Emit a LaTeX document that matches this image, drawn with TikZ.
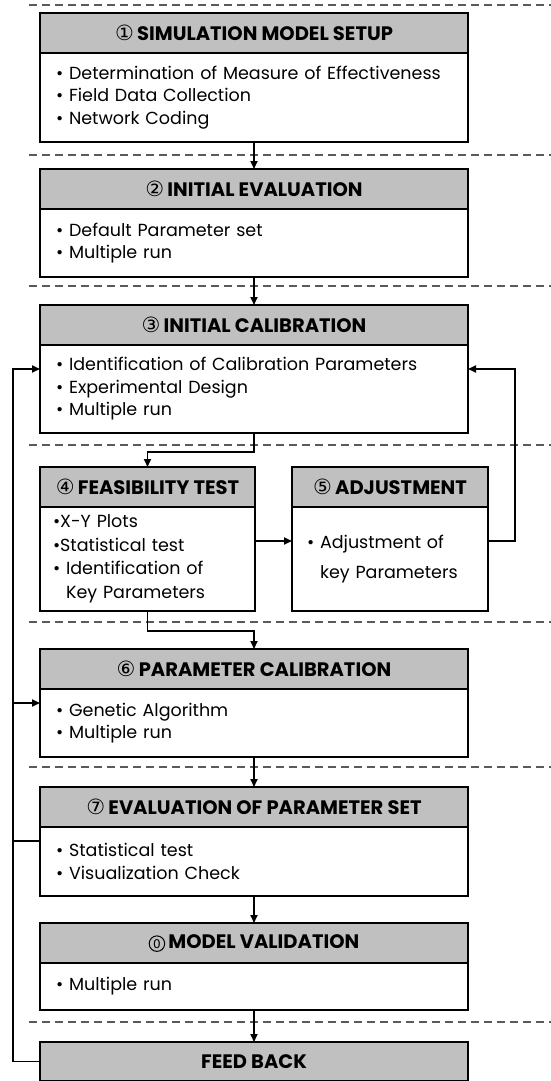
\documentclass[tikz,border=0pt]{standalone}
\usepackage{fontspec}
\setmainfont{Poppins}
\newfontfamily\circfont{DejaVu Sans}
\usetikzlibrary{arrows.meta,calc}

\definecolor{headgray}{RGB}{192,192,192}
\definecolor{sepgray}{RGB}{90,90,90}

\newcommand{\cnum}[1]{{\circfont\mdseries\fontsize{21}{22}\selectfont #1}\,}
% circled zero, drawn since the symbol fonts lack it
\newcommand{\czero}{\tikz[baseline=(cz.base)]\node[circle, draw, line width=1pt,
  inner sep=0.8pt, minimum size=15.5pt, font=\circfont\mdseries\fontsize{12}{12}\selectfont] (cz) {0};\,}

\begin{document}
\begin{tikzpicture}[x=1pt,y=-1pt,
  head/.style={draw=black, line width=1.8pt, fill=headgray, outer sep=0pt,
    inner sep=0pt, minimum height=40pt, anchor=north west,
    font=\bfseries\fontsize{19.5}{22}\selectfont},
  body/.style={draw=black, line width=1.8pt, fill=white, outer sep=0pt,
    inner ysep=0pt, align=left, anchor=north west,
    font=\fontsize{17.5}{22.5}\selectfont},
  conn/.style={line width=1.8pt, -{Triangle[length=8pt,width=7pt]}},
  link/.style={line width=1.8pt},
  sep/.style={draw=sepgray, line width=1.1pt, dash pattern=on 8pt off 5pt}]
\useasboundingbox (0,0) rectangle (551,1081);

% stage separators
\foreach \yy in {5,155,286,445,622,767,1022}
  \draw[sep] (29,\yy) -- (551,\yy);

% 1 simulation model setup
\node[head, minimum width=428pt] (h1) at (40,13) {\cnum{①}SIMULATION MODEL SETUP};
\node[body, text width=396pt, inner xsep=16pt, minimum height=89pt] (b1) at (h1.south west)
  {• Determination of Measure of Effectiveness\\
   • Field Data Collection\\
   • Network Coding};

% 2 initial evaluation
\node[head, minimum width=428pt] (h2) at (40,169) {\cnum{②}INITIAL EVALUATION};
\node[body, text width=396pt, inner xsep=16pt, minimum height=68pt] (b2) at (h2.south west)
  {• Default Parameter set\\
   • Multiple run};

% 3 initial calibration
\node[head, minimum width=428pt] (h3) at (40,305) {\cnum{③}INITIAL CALIBRATION};
\node[body, text width=396pt, inner xsep=16pt, minimum height=88pt] (b3) at (h3.south west)
  {• Identification of Calibration Parameters\\
   • Experimental Design\\
   • Multiple run};

% 4 feasibility test
\node[head, minimum width=215pt] (h4) at (40,467) {\cnum{④}FEASIBILITY TEST};
\node[body, text width=189pt, inner xsep=13pt, minimum height=104pt,
  font=\fontsize{17.5}{23.5}\selectfont] (b4) at (h4.south west)
  {•X-Y Plots\\
   •Statistical test\\
   • Identification of\\
   \phantom{• }Key Parameters};

% 5 adjustment
\node[head, minimum width=196pt] (h5) at (292,467) {\cnum{⑤}ADJUSTMENT};
\node[body, text width=166pt, inner xsep=15pt, minimum height=104pt] (b5) at (h5.south west)
  {• Adjustment of\\[7pt]
   \phantom{• }key Parameters};

% 6 parameter calibration
\node[head, minimum width=428pt] (h6) at (40,649) {\cnum{⑥}PARAMETER CALIBRATION};
\node[body, text width=396pt, inner xsep=16pt, minimum height=68pt] (b6) at (h6.south west)
  {• Genetic Algorithm\\
   • Multiple run};

% 7 evaluation of parameter set
\node[head, minimum width=428pt] (h7) at (40,787) {\cnum{⑦}EVALUATION OF PARAMETER SET};
\node[body, text width=396pt, inner xsep=16pt, minimum height=69pt] (b7) at (h7.south west)
  {• Statistical test\\
   • Visualization Check};

% 0 model validation
\node[head, minimum width=428pt] (h8) at (40,923) {\czero MODEL VALIDATION};
\node[body, text width=396pt, inner xsep=16pt, minimum height=47pt] (b8) at (h8.south west)
  {• Multiple run};

% feed back
\node[head, minimum width=428pt, minimum height=39pt] (fb) at (40,1042) {FEED BACK};

% entry points on the box sides
\coordinate (in3) at ($(b3.north west)+(0,24)$);
\coordinate (out3) at ($(b3.north east)+(0,24)$);
\coordinate (out4) at ($(b4.north east)+(0,34)$);
\coordinate (in6) at ($(b6.north west)+(0,14)$);
\coordinate (in7) at ($(b7.north west)+(0,14)$);
\coordinate (loop) at (13,369);
\coordinate (ret) at (515,369);

% main flow
\draw[conn] (b1.south) -- (h2.north);
\draw[conn] (b2.south) -- (h3.north);
\draw[conn] (b3.south) -- ++(0,19) -| (h4.north);
\draw[conn] (out4) -- (b5.west |- out4);
\draw[conn] (b5.east |- out4) -| (ret) -- (out3);
\draw[conn] (b4.south) -- ++(0,20) -| (h6.north);
\draw[conn] (b6.south) -- (h7.north);
\draw[conn] (b7.south) -- (h8.north);
\draw[conn] (b8.south) -- (fb.north);

% feedback loop on the left
\draw[conn] (fb.west) -| (loop) -- (in3);
\draw[conn] (loop |- in6) -- (in6);
\draw[link] (loop |- in7) -- (in7);
\end{tikzpicture}
\end{document}
